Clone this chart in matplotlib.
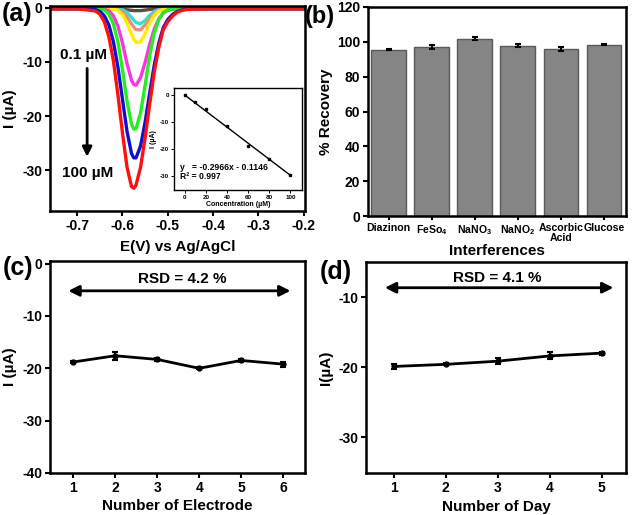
import matplotlib
matplotlib.use("Agg")
import matplotlib.pyplot as plt

plt.rcParams['font.family'] = ['Liberation Sans', 'DejaVu Sans']
plt.rcParams['font.weight'] = 'bold'
plt.rcParams['axes.labelweight'] = 'bold'
plt.rcParams['mathtext.fontset'] = 'custom'
plt.rcParams['mathtext.rm'] = 'Liberation Sans:bold'
plt.rcParams['mathtext.bf'] = 'Liberation Sans:bold'
plt.rcParams['mathtext.default'] = 'bf'

# ---------------- (a) DPV curves ----------------
potential = [-0.76, -0.70, -0.66, -0.65, -0.64, -0.63, -0.62, -0.61, -0.60, -0.59, -0.58, -0.575,
             -0.57, -0.56, -0.55, -0.54, -0.53, -0.52, -0.51, -0.50, -0.49, -0.48, -0.47, -0.46,
             -0.44, -0.40, -0.30, -0.20]
i_dark = [-0.2, -0.2, -0.2, -0.2, -0.2, -0.2, -0.2, -0.25, -0.3, -0.4, -0.5, -0.55,
          -0.55, -0.55, -0.45, -0.35, -0.25, -0.2, -0.2, -0.2, -0.2, -0.2, -0.2, -0.2,
          -0.2, -0.2, -0.2, -0.2]
i_cyan = [-0.2, -0.2, -0.2, -0.2, -0.2, -0.2, -0.2, -0.24, -0.4, -0.87, -1.8, -2.3,
          -2.75, -2.96, -2.36, -1.44, -0.72, -0.36, -0.24, -0.2, -0.2, -0.2, -0.2, -0.2,
          -0.2, -0.2, -0.2, -0.2]
i_salmon = [-0.2, -0.2, -0.2, -0.2, -0.2, -0.2, -0.24, -0.38, -0.8, -1.7, -3.0, -3.6,
            -4.05, -4.1, -3.2, -2.0, -1.06, -0.52, -0.3, -0.22, -0.2, -0.2, -0.2, -0.2,
            -0.2, -0.2, -0.2, -0.2]
i_yellow = [-0.2, -0.2, -0.2, -0.2, -0.2, -0.2, -0.27, -0.5, -1.3, -2.8, -4.9, -5.8,
            -6.4, -6.3, -4.8, -2.9, -1.45, -0.65, -0.33, -0.22, -0.2, -0.2, -0.2, -0.2,
            -0.2, -0.2, -0.2, -0.2]
i_magenta = [-0.2, -0.2, -0.2, -0.2, -0.3, -0.6, -1.5, -3.4, -6.5, -10.3, -13.4, -14.2,
             -14.3, -12.9, -10.1, -6.8, -4.0, -2.1, -1.0, -0.5, -0.3, -0.22, -0.2, -0.2,
             -0.2, -0.2, -0.2, -0.2]
i_green = [-0.2, -0.2, -0.2, -0.3, -0.5, -1.2, -3.0, -6.3, -11.4, -17.2, -21.5, -22.4,
           -22.3, -19.4, -14.3, -8.9, -4.7, -2.2, -0.9, -0.4, -0.25, -0.2, -0.2, -0.2,
           -0.2, -0.2, -0.2, -0.2]
i_blue = [-0.2, -0.2, -0.35, -0.7, -1.5, -3.2, -6.3, -11.0, -16.9, -22.8, -26.9, -27.7,
          -27.7, -25.5, -21.1, -15.8, -10.7, -6.6, -3.7, -2.2, -1.3, -0.75, -0.45, -0.3,
          -0.22, -0.2, -0.2, -0.2]
i_red = [-0.2, -0.2, -0.6, -1.2, -2.6, -5.4, -9.8, -16.1, -23.1, -29.4, -33.0, -33.3,
         -32.7, -29.4, -24.0, -17.8, -12.0, -7.4, -4.1, -2.6, -1.6, -0.9, -0.55, -0.35,
         -0.25, -0.2, -0.2, -0.2]

# inset calibration
conc = [0.1, 10, 20, 40, 60, 80, 100]
peak_current = [-0.25, -2.8, -5.3, -11.4, -19.1, -23.6, -29.6]
fit_slope = -0.2966
fit_intercept = -0.1146

# ---------------- (b) interference ----------------
interferents = ['Diazinon', 'FeSo$_4$', 'NaNO$_3$', 'NaNO$_2$', 'Ascorbic\nAcid', 'Glucose']
recovery = [95.5, 97.0, 101.8, 97.8, 96.0, 98.2]
recovery_err = [0.4, 0.9, 0.9, 1.0, 1.2, 0.3]

# ---------------- (c) reproducibility ----------------
electrode_no = [1, 2, 3, 4, 5, 6]
electrode_i = [-18.8, -17.6, -18.3, -20.0, -18.5, -19.2]
electrode_err = [0.15, 0.8, 0.3, 0.2, 0.2, 0.5]

# ---------------- (d) stability ----------------
day_no = [1, 2, 3, 4, 5]
day_i = [-19.9, -19.6, -19.15, -18.4, -18.0]
day_err = [0.4, 0.15, 0.4, 0.5, 0.2]

W, H = 632, 515
fig = plt.figure(figsize=(W / 100, H / 100), dpi=100)


def ax_px(l, t, r, b):
    return fig.add_axes([l / W, (H - b) / H, (r - l) / W, (b - t) / H])


def style(ax, size=10):
    for s in ax.spines.values():
        s.set_linewidth(1.8)
    ax.tick_params(axis='both', which='both', direction='out', width=1.5, length=3.5, pad=2,
                   labelsize=size, top=False, right=False)
    for lab in ax.get_xticklabels() + ax.get_yticklabels():
        lab.set_fontweight('bold')


# (a)
axa = ax_px(50, 6, 305, 211)
curves = [(i_dark, '#5a5040'), (i_cyan, '#33e0d8'), (i_salmon, '#f08c78'), (i_yellow, '#ffee00'),
          (i_magenta, '#ff33dd'), (i_green, '#22ee22'), (i_blue, '#1010cc'), (i_red, '#ff1010')]
for ys, c in curves:
    axa.plot(potential, ys, color=c, lw=2.4)
axa.set_xlim(-0.76, -0.197)
axa.set_ylim(-37.5, 0.3)
axa.set_xticks([-0.7, -0.6, -0.5, -0.4, -0.3, -0.2])
axa.set_xticklabels(['-0.7', '-0.6', '-0.5', '-0.4', '-0.3', '-0.2'])
axa.set_yticks([0, -10, -20, -30])
axa.set_yticklabels(['0', '-10', '-20', '-30'])
axa.set_xlabel('E(V) vs Ag/AgCl', fontsize=11, labelpad=5)
axa.set_ylabel('I (µA)', fontsize=11, labelpad=4)
style(axa)
axa.text(-0.687, -8.8, '0.1 µM', ha='center', va='center', fontsize=11, fontweight='bold')
axa.text(-0.676, -30.5, '100 µM', ha='center', va='center', fontsize=11, fontweight='bold')
axa.annotate('', xy=(-0.678, -28.0), xytext=(-0.678, -10.7),
             arrowprops=dict(arrowstyle='-|>', color='black', lw=2, mutation_scale=14))
fig.text(17 / W, 1 - 14 / H, '(a)', fontsize=18, fontweight='bold', ha='center', va='center')

# inset
axi = ax_px(174, 88, 302, 190)
axi.plot([0, 100], [fit_intercept, fit_slope * 100 + fit_intercept], color='black', lw=1)
axi.plot(conc, peak_current, 's', color='black', ms=2)
axi.set_xlim(-10.2, 111)
axi.set_ylim(-35.2, 2.5)
axi.set_xticks([0, 20, 40, 60, 80, 100])
axi.set_yticks([0, -10, -20, -30])
axi.set_yticklabels(['0', '-10', '-20', '-30'])
for s in axi.spines.values():
    s.set_linewidth(1.0)
axi.tick_params(labelsize=4.5, length=2, width=0.7, pad=1.5)
axi.set_xlabel('Concentration (µM)', fontsize=5, labelpad=1)
axi.set_ylabel('I (µA)', fontsize=5, labelpad=2)
axi.text(-4.8, -26.8, 'y   = -0.2966x - 0.1146', fontsize=6.2, fontweight='bold', va='center')
axi.text(-4.8, -30.3, 'R² = 0.997', fontsize=6.2, fontweight='bold', va='center')

# (b)
axb = ax_px(368, 7, 626, 216)
xb = list(range(len(interferents)))
axb.bar(xb, recovery, width=0.81, color='#858585', edgecolor='#5a5a5a', linewidth=1)
axb.errorbar(xb, recovery, yerr=recovery_err, fmt='none', ecolor='black', elinewidth=1.5,
             capsize=2.5, capthick=1.5)
axb.set_xlim(-0.48, 5.51)
axb.set_ylim(0, 120)
axb.set_yticks([0, 20, 40, 60, 80, 100, 120])
axb.set_xticks(xb)
axb.set_xticklabels(interferents, fontsize=7.6, fontweight='bold', linespacing=0.95)
axb.set_xlabel('Interferences', fontsize=11, labelpad=1)
axb.set_ylabel('% Recovery', fontsize=11, labelpad=3)
style(axb)
axb.tick_params(axis='x', labelsize=7.6, length=3)
fig.text(320 / W, 1 - 17 / H, '(b)', fontsize=17, fontweight='bold', ha='center', va='center')

# (c)
axc = ax_px(50, 261, 305, 473)
axc.errorbar(electrode_no, electrode_i, yerr=electrode_err, color='black', lw=2, marker='o', ms=3.5,
             elinewidth=1.5, capsize=2.5, capthick=1.5)
axc.set_xlim(0.45, 6.52)
axc.set_ylim(-40, 0.5)
axc.set_xticks(electrode_no)
axc.set_yticks([0, -10, -20, -30, -40])
axc.set_yticklabels(['0', '-10', '-20', '-30', '-40'])
axc.set_xlabel('Number of Electrode', fontsize=11, labelpad=3)
axc.set_ylabel('I (µA)', fontsize=11, labelpad=4)
style(axc)
axc.annotate('', xy=(0.82, -5.2), xytext=(6.24, -5.2),
             arrowprops=dict(arrowstyle='<|-|>', color='black', lw=2, mutation_scale=16))
axc.text(3.6, -3.0, 'RSD = 4.2 %', ha='center', va='center', fontsize=11, fontweight='bold')
fig.text(18 / W, 1 - 268 / H, '(c)', fontsize=18, fontweight='bold', ha='center', va='center')

# (d)
axd = ax_px(366, 262, 626, 473)
axd.errorbar(day_no, day_i, yerr=day_err, color='black', lw=2, marker='o', ms=3.5,
             elinewidth=1.5, capsize=2.5, capthick=1.5)
axd.set_xlim(0.47, 5.47)
axd.set_ylim(-35.1, -5.0)
axd.set_xticks(day_no)
axd.set_yticks([-10, -20, -30])
axd.set_yticklabels(['-10', '-20', '-30'])
axd.set_xlabel('Number of Day', fontsize=11, labelpad=4)
axd.set_ylabel('I(µA)', fontsize=11, labelpad=4)
style(axd)
axd.annotate('', xy=(0.78, -8.67), xytext=(5.28, -8.67),
             arrowprops=dict(arrowstyle='<|-|>', color='black', lw=2, mutation_scale=16))
axd.text(3.0, -7.25, 'RSD = 4.1 %', ha='center', va='center', fontsize=11, fontweight='bold')
fig.text(336 / W, 1 - 272 / H, '(d)', fontsize=18, fontweight='bold', ha='center', va='center')

fig.savefig('out.png', dpi=100)
